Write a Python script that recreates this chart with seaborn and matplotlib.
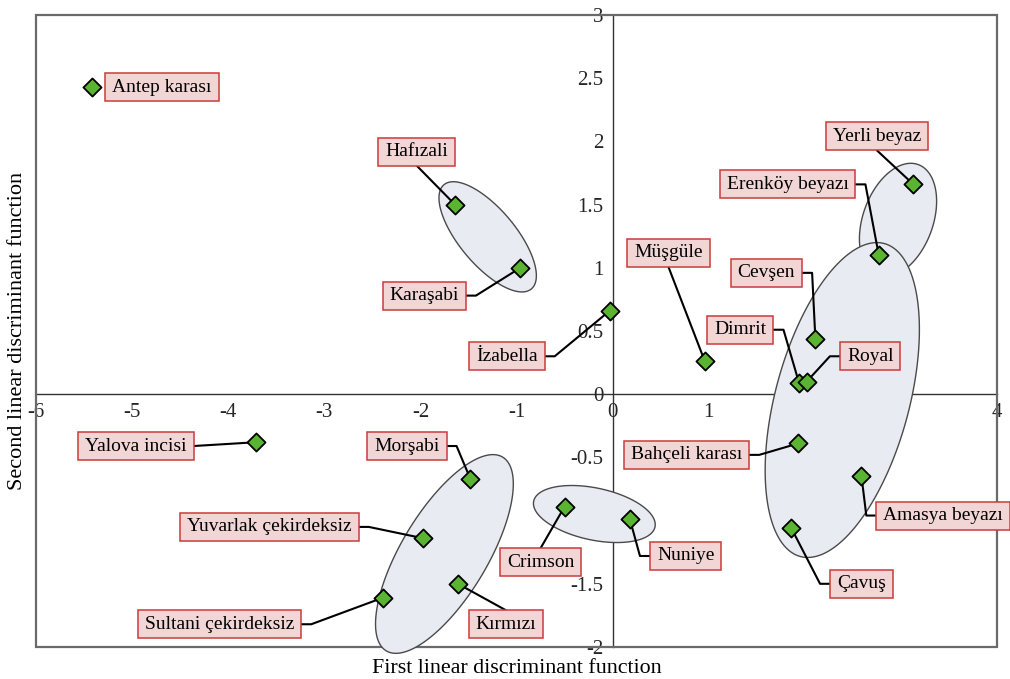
import numpy as np
import pandas as pd
import matplotlib
matplotlib.use("Agg")
import matplotlib.pyplot as plt
import seaborn as sns

# ---------------- data ----------------
names = ["Antep karası", "Hafızali", "Karaşabi", "İzabella", "Müşgüle", "Cevşen",
         "Dimrit", "Royal", "Erenköy beyazı", "Yerli beyaz", "Yalova incisi",
         "Morşabi", "Yuvarlak çekirdeksiz", "Kırmızı", "Sultani çekirdeksiz",
         "Crimson", "Nuniye", "Bahçeli karası", "Amasya beyazı", "Çavuş"]
ld1 = [-5.42, -1.64, -0.96, -0.03, 0.96, 2.11, 1.94, 2.02, 2.77, 3.13, -3.71,
       -1.48, -1.97, -1.61, -2.39, -0.50, 0.18, 1.93, 2.59, 1.86]
ld2 = [2.43, 1.50, 1.00, 0.66, 0.26, 0.44, 0.09, 0.10, 1.10, 1.66, -0.38,
       -0.67, -1.14, -1.50, -1.61, -0.89, -0.99, -0.39, -0.65, -1.06]
# label box centres (data units) and leader attachment side
lab_x = [-4.69, -2.04, -1.96, -1.10, 0.58, 1.60, 1.33, 2.68, 1.82, 2.75, -4.96,
         -2.14, -3.57, -1.11, -4.09, -0.75, 0.76, 0.77, 3.44, 2.59]
lab_y = [2.43, 1.92, 0.78, 0.30, 1.12, 0.96, 0.51, 0.30, 1.66, 2.04, -0.41,
         -0.41, -1.05, -1.82, -1.82, -1.33, -1.28, -0.48, -0.96, -1.50]
lab_side = ["none", "b", "r", "r", "b", "r", "r", "l", "r", "b", "r0",
            "r", "r", "t", "r", "t", "l", "r", "l", "l"]

x_ticks = [-6, -5, -4, -3, -2, -1, 0, 1, 2, 3, 4]
y_ticks = [-2, -1.5, -1, -0.5, 0, 0.5, 1, 1.5, 2, 2.5, 3]
y_tick_labels = ["-2", "-1.5", "-1", "-0.5", "0", "0.5", "1", "1.5", "2", "2.5", "3"]

# group ellipses: centre (data), semi-axes in pixels, angle in degrees (screen)
ell_cx = [-1.30, 2.97, 2.39, -1.75, -0.19]
ell_cy = [1.245, 1.378, -0.046, -1.264, -0.948]
ell_a = [68, 59, 162, 113, 62]
ell_b = [28, 35, 67, 43, 26]
ell_ang = [-50, 70, 75, 59, -12]

df = pd.DataFrame({"name": names, "LD1": ld1, "LD2": ld2})

# ---------------- style ----------------
sns.set_theme(style="white")
plt.rcParams["font.family"] = ["Liberation Serif", "DejaVu Serif"]
plt.rcParams["axes.unicode_minus"] = False

W, H = 1010, 679
fig = plt.figure(figsize=(W / 100, H / 100), dpi=100)
L, R, T, B = 36, 997, 15, 647
ax = fig.add_axes([L / W, (H - B) / H, (R - L) / W, (B - T) / H])
ax.set_xlim(-6, 4)
ax.set_ylim(-2, 3)
sx = (R - L) / 10.0
sy = (B - T) / 5.0

# ellipses
for cx, cy, a, b, ang in zip(ell_cx, ell_cy, ell_a, ell_b, ell_ang):
    t = np.linspace(0, 2 * np.pi, 300)
    th = np.deg2rad(ang)
    dx = a * np.cos(t) * np.cos(th) - b * np.sin(t) * np.sin(th)
    dy = a * np.cos(t) * np.sin(th) + b * np.sin(t) * np.cos(th)
    ax.fill(cx + dx / sx, cy + dy / sy, facecolor="#e8ecf2", edgecolor="#4a4a4a",
            lw=1.0, zorder=1, clip_on=False)

sns.scatterplot(data=df, x="LD1", y="LD2", marker="D", s=85, color="#5bb332",
                edgecolor="black", linewidth=1.3, zorder=6, ax=ax, clip_on=False)

# spines through the origin
for s in ["top", "right"]:
    ax.spines[s].set_visible(False)
ax.spines["left"].set_position(("data", 0))
ax.spines["bottom"].set_position(("data", 0))
for s in ["left", "bottom"]:
    ax.spines[s].set_color("#333333")
    ax.spines[s].set_linewidth(1.0)
    ax.spines[s].set_zorder(0.5)
frame = plt.Rectangle((0, 0), 1, 1, transform=ax.transAxes, fill=False,
                      edgecolor="#6a6a6a", lw=1.6, zorder=0.6, clip_on=False)
ax.add_patch(frame)

ax.set_xticks(x_ticks)
ax.set_xticklabels([str(v) for v in x_ticks])
ax.set_yticks(y_ticks)
ax.set_yticklabels(y_tick_labels)
ax.set_xticks(np.arange(-6, 4.001, 0.2), minor=True)
ax.set_yticks(np.arange(-2, 3.001, 0.1), minor=True)
ax.tick_params(which="major", direction="inout", length=9, width=1.1,
               color="#333333", labelsize=15, pad=2)
ax.tick_params(which="minor", direction="inout", length=5, width=0.8,
               color="#333333")
ax.set_xlabel("")
ax.set_ylabel("")

ax.text(0.5, -0.034, "First linear discriminant function", transform=ax.transAxes,
        ha="center", va="center", fontsize=15.8, color="black")
ax.text(-0.019, 0.5, "Second linear discriminant function", transform=ax.transAxes,
        ha="center", va="center", rotation=90, fontsize=16, color="black")

texts = []
for nm, x, y in zip(names, lab_x, lab_y):
    tx = ax.text(x, y, nm, ha="center", va="center", fontsize=14, color="black",
                 zorder=8)
    texts.append(tx)

fig.canvas.draw()
renderer = fig.canvas.get_renderer()
inv = ax.transData.inverted()
stub = 10
padx, pady = 7, 5.5
for tx, side, px, py in zip(texts, lab_side, ld1, ld2):
    tb = tx.get_window_extent(renderer)
    x0, x1 = tb.x0 - padx, tb.x1 + padx
    y0, y1 = tb.y0 - pady, tb.y1 + pady
    d0 = inv.transform((x0, y0))
    d1 = inv.transform((x1, y1))
    ax.add_patch(plt.Rectangle(tuple(d0), d1[0] - d0[0], d1[1] - d0[1],
                               facecolor="#f2d6d6", edgecolor="#cc3b3b", lw=1.1,
                               zorder=7, clip_on=False))
    if side == "none":
        continue
    cxp = (x0 + x1) / 2
    cyp = (y0 + y1) / 2
    P = ax.transData.transform((px, py))
    if side == "r":
        pts = [(x1, cyp), (x1 + stub, cyp), tuple(P)]
    elif side == "r0":
        pts = [(x1, cyp), tuple(P)]
    elif side == "l":
        pts = [(x0, cyp), (x0 - stub, cyp), tuple(P)]
    elif side == "b":
        pts = [(cxp, y0), tuple(P)]
    else:
        pts = [(cxp, y1), tuple(P)]
    d = inv.transform(np.array(pts))
    ax.plot(d[:, 0], d[:, 1], color="black", lw=1.5, zorder=3, clip_on=False)

fig.savefig("out.png", dpi=100)
